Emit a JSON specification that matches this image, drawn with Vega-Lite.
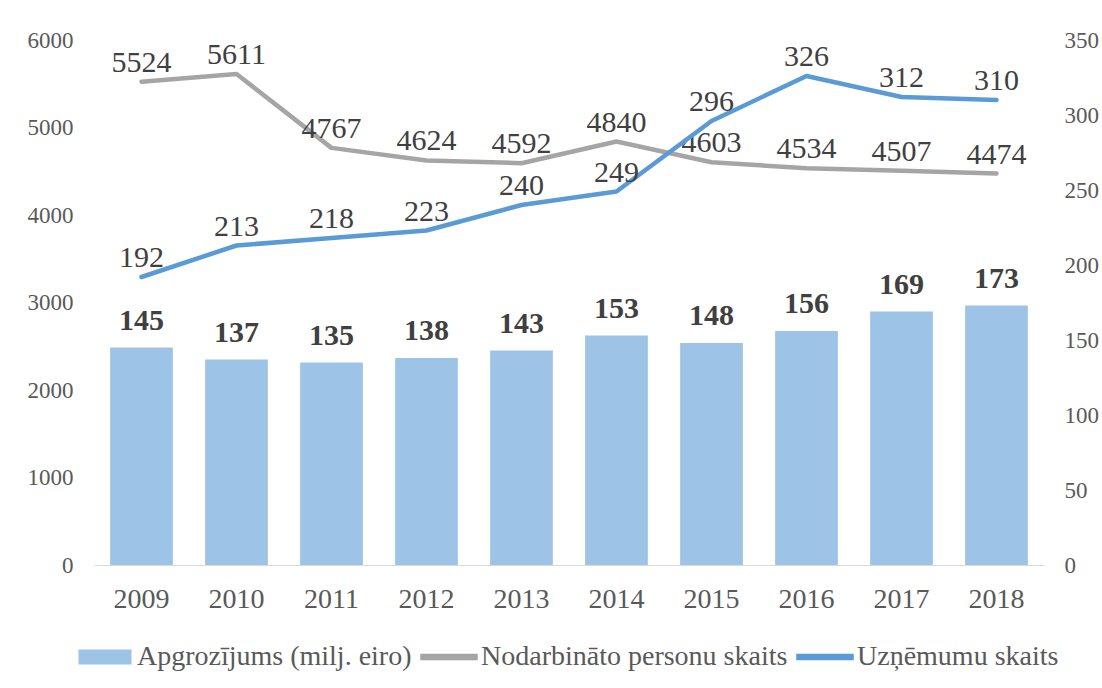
{
  "$schema": "https://vega.github.io/schema/vega-lite/v6.json",
  "width": 950,
  "height": 525,
  "autosize": {"type": "none"},
  "padding": {"left": 94, "top": 40, "right": 58, "bottom": 123},
  "background": "white",
  "config": {
    "view": {"stroke": null},
    "font": "Liberation Serif",
    "text": {"font": "Liberation Serif"},
    "axis": {"labelFont": "Liberation Serif"},
    "legend": {"labelFont": "Liberation Serif"}
  },
  "data": {
    "values": [
      {"year": "2009", "series": "Apgrozījums (milj. eiro)", "value": 145},
      {"year": "2010", "series": "Apgrozījums (milj. eiro)", "value": 137},
      {"year": "2011", "series": "Apgrozījums (milj. eiro)", "value": 135},
      {"year": "2012", "series": "Apgrozījums (milj. eiro)", "value": 138},
      {"year": "2013", "series": "Apgrozījums (milj. eiro)", "value": 143},
      {"year": "2014", "series": "Apgrozījums (milj. eiro)", "value": 153},
      {"year": "2015", "series": "Apgrozījums (milj. eiro)", "value": 148},
      {"year": "2016", "series": "Apgrozījums (milj. eiro)", "value": 156},
      {"year": "2017", "series": "Apgrozījums (milj. eiro)", "value": 169},
      {"year": "2018", "series": "Apgrozījums (milj. eiro)", "value": 173},
      {"year": "2009", "series": "Nodarbināto personu skaits", "value": 5524},
      {"year": "2010", "series": "Nodarbināto personu skaits", "value": 5611},
      {"year": "2011", "series": "Nodarbināto personu skaits", "value": 4767},
      {"year": "2012", "series": "Nodarbināto personu skaits", "value": 4624},
      {"year": "2013", "series": "Nodarbināto personu skaits", "value": 4592},
      {"year": "2014", "series": "Nodarbināto personu skaits", "value": 4840},
      {"year": "2015", "series": "Nodarbināto personu skaits", "value": 4603},
      {"year": "2016", "series": "Nodarbināto personu skaits", "value": 4534},
      {"year": "2017", "series": "Nodarbināto personu skaits", "value": 4507},
      {"year": "2018", "series": "Nodarbināto personu skaits", "value": 4474},
      {"year": "2009", "series": "Uzņēmumu skaits", "value": 192},
      {"year": "2010", "series": "Uzņēmumu skaits", "value": 213},
      {"year": "2011", "series": "Uzņēmumu skaits", "value": 218},
      {"year": "2012", "series": "Uzņēmumu skaits", "value": 223},
      {"year": "2013", "series": "Uzņēmumu skaits", "value": 240},
      {"year": "2014", "series": "Uzņēmumu skaits", "value": 249},
      {"year": "2015", "series": "Uzņēmumu skaits", "value": 296},
      {"year": "2016", "series": "Uzņēmumu skaits", "value": 326},
      {"year": "2017", "series": "Uzņēmumu skaits", "value": 312},
      {"year": "2018", "series": "Uzņēmumu skaits", "value": 310}
    ]
  },
  "encoding": {
    "x": {
      "field": "year",
      "type": "ordinal",
      "scale": {"paddingInner": 0.34, "paddingOuter": 0.17},
      "axis": {
        "title": null,
        "labelAngle": 0,
        "ticks": false,
        "grid": false,
        "domain": true,
        "domainColor": "#D9D9D9",
        "domainWidth": 1,
        "labelFont": "Liberation Serif",
        "labelFontSize": 28,
        "labelColor": "#595959",
        "labelPadding": 20
      }
    }
  },
  "layer": [
    {
      "transform": [{"filter": "datum.series === 'Nodarbināto personu skaits'"}],
      "encoding": {
        "y": {
          "field": "value",
          "type": "quantitative",
          "scale": {"domain": [0, 6000], "nice": false, "zero": true},
          "axis": {
            "orient": "left",
            "title": null,
            "values": [0, 1000, 2000, 3000, 4000, 5000, 6000],
            "format": "d",
            "ticks": false,
            "domain": false,
            "grid": false,
            "labelFont": "Liberation Serif",
            "labelFontSize": 23,
            "labelColor": "#595959",
            "labelPadding": 21
          }
        }
      },
      "layer": [
        {
          "mark": {"type": "line", "strokeWidth": 4.5, "strokeCap": "round", "strokeJoin": "round"},
          "encoding": {
            "color": {
              "field": "series",
              "type": "nominal",
              "scale": {
                "domain": ["Apgrozījums (milj. eiro)", "Nodarbināto personu skaits", "Uzņēmumu skaits"],
                "range": ["#9DC3E6", "#A5A5A5", "#5B9BD5"]
              },
              "legend": {
                "orient": "none",
                "legendX": -18,
                "legendY": 588,
                "direction": "horizontal",
                "title": null,
                "labelFont": "Liberation Serif",
                "labelFontSize": 28,
                "labelColor": "#595959",
                "labelLimit": 0,
                "symbolSize": 3136,
                "labelOffset": 3,
                "columnPadding": 6,
                "padding": 0,
                "encode": {
                  "symbols": {
                    "update": {
                      "shape": {"signal": "datum.value === 'Apgrozījums (milj. eiro)' ? 'M-0.92,-0.24H0.92V0.24H-0.92Z' : 'M-1,-0.09H1V0.09H-1Z'"},
                      "fill": {"scale": "color", "field": "value"},
                      "stroke": {"value": "transparent"},
                      "opacity": {"value": 1},
                      "fillOpacity": {"value": 1}
                    }
                  }
                }
              }
            }
          }
        },
        {
          "mark": {"type": "text", "font": "Liberation Serif", "fontSize": 30, "color": "#404040", "baseline": "alphabetic", "dy": -10},
          "encoding": {"text": {"field": "value", "type": "quantitative", "format": "d"}}
        }
      ]
    },
    {
      "encoding": {
        "y": {
          "field": "value",
          "type": "quantitative",
          "scale": {"domain": [0, 350], "nice": false, "zero": true},
          "axis": {
            "orient": "right",
            "title": null,
            "values": [0, 50, 100, 150, 200, 250, 300, 350],
            "ticks": false,
            "domain": false,
            "grid": false,
            "labelFont": "Liberation Serif",
            "labelFontSize": 23,
            "labelColor": "#595959",
            "labelPadding": 20
          }
        }
      },
      "layer": [
        {
          "transform": [{"filter": "datum.series === 'Apgrozījums (milj. eiro)'"}],
          "mark": {"type": "bar"},
          "encoding": {
            "color": {"field": "series", "type": "nominal"}
          }
        },
        {
          "transform": [{"filter": "datum.series === 'Apgrozījums (milj. eiro)'"}],
          "mark": {"type": "text", "font": "Liberation Serif", "fontSize": 30, "fontWeight": "bold", "color": "#404040", "baseline": "alphabetic", "dy": -18},
          "encoding": {"text": {"field": "value", "type": "quantitative"}}
        },
        {
          "transform": [{"filter": "datum.series === 'Uzņēmumu skaits'"}],
          "mark": {"type": "line", "strokeWidth": 4.5, "strokeCap": "round", "strokeJoin": "round"},
          "encoding": {
            "color": {"field": "series", "type": "nominal"}
          }
        },
        {
          "transform": [{"filter": "datum.series === 'Uzņēmumu skaits'"}],
          "mark": {"type": "text", "font": "Liberation Serif", "fontSize": 30, "color": "#404040", "baseline": "alphabetic", "dy": -10},
          "encoding": {"text": {"field": "value", "type": "quantitative"}}
        }
      ]
    }
  ],
  "resolve": {"scale": {"y": "independent"}}
}
